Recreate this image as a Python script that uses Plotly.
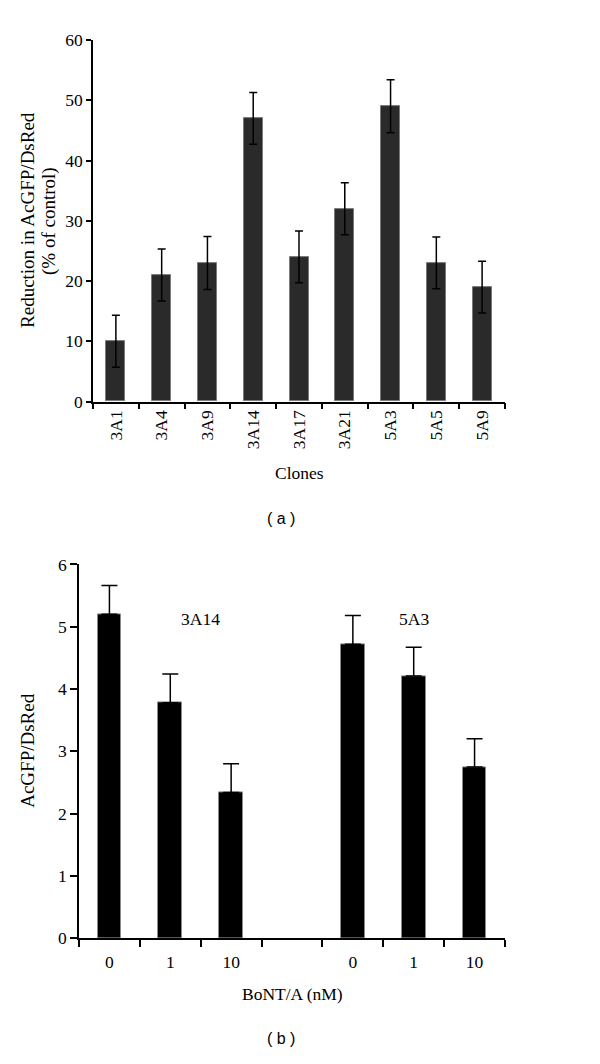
import plotly.graph_objects as go

# Panel (a)
clones = ["3A1", "3A4", "3A9", "3A14", "3A17", "3A21", "5A3", "5A5", "5A9"]
reduction = [10, 21, 23, 47, 24, 32, 49, 23, 19]
reduction_err = [4.3, 4.3, 4.4, 4.3, 4.3, 4.3, 4.4, 4.3, 4.3]
title_a_x = "Clones"
title_a_y = ["Reduction in AcGFP/DsRed", "(% of control)"]

# Panel (b)
dose_labels = ["0", "1", "10", "", "0", "1", "10"]
dose_pos = [0, 1, 2, 4, 5, 6]
ratio = [5.2, 3.78, 2.34, 4.72, 4.21, 2.75]
ratio_err = [0.46, 0.46, 0.46, 0.46, 0.46, 0.45]
group_names = ["3A14", "5A3"]
group_label_x = [1.5, 5]
group_label_y = 5.13
title_b_x = "BoNT/A (nM)"
title_b_y = "AcGFP/DsRed"

SERIF = "Liberation Serif"
FW, FH = 600, 1064


def px(X):
    return X / FW


def py(Y):
    return 1 - Y / FH


fig = go.Figure()

fig.add_trace(go.Bar(
    x=list(range(len(clones))), y=reduction, width=0.415,
    marker=dict(color="#2a2a2a", line=dict(color="#7a7a7a", width=1)),
    error_y=dict(type="data", array=reduction_err, color="black", thickness=1.5, width=4),
    xaxis="x", yaxis="y", showlegend=False, hoverinfo="skip",
))

fig.add_trace(go.Bar(
    x=dose_pos, y=ratio, width=0.39,
    marker=dict(color="black", line=dict(color="#8a8a8a", width=1)),
    error_y=dict(type="data", array=ratio_err, arrayminus=[0] * len(ratio),
                 symmetric=False, color="black", thickness=1.5, width=8),
    xaxis="x2", yaxis="y2", showlegend=False, hoverinfo="skip",
))

tick_font = dict(family=SERIF, size=17.5, color="black")

fig.update_layout(
    width=FW, height=FH,
    margin=dict(l=0, r=0, t=0, b=0),
    paper_bgcolor="white", plot_bgcolor="white",
    font=dict(family=SERIF, size=17.5, color="black"),
    bargap=0,
    xaxis=dict(
        domain=[px(93), px(505)], anchor="y",
        range=[-0.5, len(clones) - 0.5],
        tickmode="array", tickvals=list(range(len(clones))), ticktext=clones,
        tickangle=-90, ticks="", tickfont=tick_font, ticklabelstandoff=0,
        minor=dict(tickmode="array", tickvals=[i - 0.5 for i in range(len(clones) + 1)],
                   ticks="outside", ticklen=6, tickwidth=1.5, tickcolor="black"),
        showline=True, linecolor="black", linewidth=1.5,
        showgrid=False, zeroline=False,
    ),
    yaxis=dict(
        domain=[py(399), py(30.7)], anchor="x",
        range=[0, 60], tickvals=[0, 10, 20, 30, 40, 50, 60],
        ticks="outside", ticklen=5, tickwidth=1.5, tickcolor="black",
        tickfont=tick_font,
        showline=True, linecolor="black", linewidth=1.5,
        showgrid=False, zeroline=False,
    ),
    xaxis2=dict(
        domain=[px(79), px(505)], anchor="y2",
        range=[-0.5, len(dose_labels) - 0.5],
        tickmode="array", tickvals=list(range(len(dose_labels))), ticktext=dose_labels,
        ticks="", tickfont=tick_font, ticklabelstandoff=7,
        minor=dict(tickmode="array", tickvals=[i - 0.5 for i in range(len(dose_labels) + 1)],
                   ticks="outside", ticklen=7, tickwidth=1.5, tickcolor="black"),
        showline=True, linecolor="black", linewidth=1.5,
        showgrid=False, zeroline=False,
    ),
    yaxis2=dict(
        domain=[py(946), py(565)], anchor="x2",
        range=[0, 6], tickvals=[0, 1, 2, 3, 4, 5, 6],
        ticks="outside", ticklen=7, tickwidth=1.5, tickcolor="black",
        tickfont=tick_font,
        showline=True, linecolor="black", linewidth=1.5,
        showgrid=False, zeroline=False,
    ),
)


def text_at(txt, X, Y, size, family=SERIF, angle=0):
    fig.add_annotation(x=px(X), y=py(Y), xref="paper", yref="paper", text=txt,
                       showarrow=False, xanchor="center", yanchor="middle",
                       textangle=angle, font=dict(family=family, size=size, color="black"))


# axis titles
text_at(title_a_x, 299, 472, 17.5)
text_at(title_a_y[0], 28, 214, 19, angle=-90)
text_at(title_a_y[1], 49, 215, 19, angle=-90)
text_at(title_b_x, 292, 1003, 17.5)
text_at(title_b_y, 28, 755, 19, angle=-90)

# group labels inside panel (b)
for name, gx in zip(group_names, group_label_x):
    fig.add_annotation(x=gx, y=group_label_y, xref="x2", yref="y2", text=name,
                       showarrow=False, xanchor="center", yanchor="middle",
                       font=dict(family=SERIF, size=17.5, color="black"))

# panel letters
text_at("( a )", 281, 518, 16, family="Liberation Sans")
text_at("( b )", 281, 1048, 16, family="Liberation Sans")

fig.write_html("out.html", config={"displayModeBar": False},
               post_script="document.body.style.margin='0px';")
